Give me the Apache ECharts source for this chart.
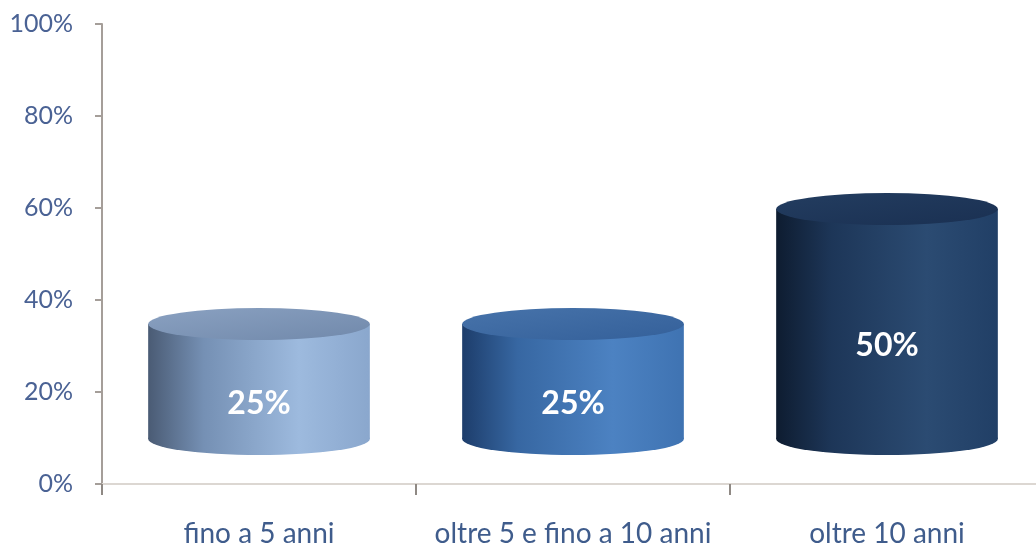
<!DOCTYPE html>
<html>
<head>
<meta charset="utf-8">
<script src="https://cdn.jsdelivr.net/npm/echarts@6/dist/echarts.min.js"></script>
<style>
html,body{margin:0;padding:0;background:#fff;overflow:hidden;width:1036px;height:548px;}
#chart{width:1060px;height:548px;}
</style>
</head>
<body>
<div id="chart"></div>
<script>
const categories = ['fino a 5 anni', 'oltre 5 e fino a 10 anni', 'oltre 10 anni'];
const values = [25, 25, 50];
const yTicks = [0, 20, 40, 60, 80, 100];

const bodyColors = [
  ['#4a5b74', '#7590b4', '#9dbade', '#8aa7cd'],
  ['#1d3d6b', '#3767a2', '#4c82c2', '#3f73b2'],
  ['#0e1c30', '#1d3658', '#2b4b72', '#213f66']
];
const topColors = [
  ['#8aa1c1', '#7189ab'],
  ['#4773aa', '#34609a'],
  ['#233d60', '#1a3052']
];

function hGrad(c) {
  return new echarts.graphic.LinearGradient(0, 0, 1, 0, [
    {offset: 0, color: c[0]},
    {offset: 0.25, color: c[1]},
    {offset: 0.68, color: c[2]},
    {offset: 1, color: c[3]}
  ]);
}

const chart = echarts.init(document.getElementById('chart'));
chart.setOption({
  animation: false,
  backgroundColor: '#fff',
  grid: {left: 102, top: 24, right: 16, bottom: 63, containLabel: false},
  xAxis: {
    type: 'category',
    data: categories,
    boundaryGap: true,
    axisLine: {show: true, lineStyle: {color: '#dcd7d2', width: 2}},
    axisTick: {show: true, alignWithLabel: false, length: 11, lineStyle: {color: '#8f8984', width: 2}},
    axisLabel: {interval: 0, margin: 36, color: '#3f5c8c', fontFamily: 'Lato', fontSize: 28},
    splitLine: {show: false}
  },
  yAxis: {
    type: 'value',
    min: yTicks[0],
    max: yTicks[yTicks.length - 1],
    interval: 20,
    axisLine: {show: true, lineStyle: {color: '#a59e99', width: 2}},
    axisTick: {show: true, length: 7, lineStyle: {color: '#a59e99', width: 2}},
    axisLabel: {margin: 29, color: '#4a6294', fontFamily: 'Lato', fontSize: 25, formatter: '{value}%'},
    splitLine: {show: false}
  },
  series: [{
    type: 'custom',
    data: values.map((v, i) => [i, v]),
    encode: {x: 0, y: 1},
    renderItem: function (params, api) {
      const idx = api.value(0);
      const val = api.value(1);
      const depth = 45;
      const base = api.coord([idx, 0]);
      const top = api.coord([idx, val]);
      const cx = base[0];
      const botY = base[1] - depth;
      const topY = top[1] - depth;
      const bandW = api.size([1, 0])[0];
      const rx = bandW * 0.353;
      const ry = 16;
      const grad = hGrad(bodyColors[idx]);
      const tc = topColors[idx];
      const topGrad = new echarts.graphic.LinearGradient(0, 0, 1, 1, [
        {offset: 0, color: tc[0]},
        {offset: 1, color: tc[1]}
      ]);
      return {
        type: 'group',
        children: [
          {type: 'circle', x: cx, y: botY, scaleY: ry / rx, shape: {cx: 0, cy: 0, r: rx}, style: {fill: grad}},
          {type: 'rect', shape: {x: cx - rx, y: topY, width: rx * 2, height: botY - topY}, style: {fill: grad}},
          {type: 'circle', x: cx, y: topY, scaleY: ry / rx, shape: {cx: 0, cy: 0, r: rx}, style: {fill: topGrad}},
          {type: 'text', x: cx, y: (topY + botY) / 2 + 22, style: {
            text: val + '%', fill: '#ffffff', font: 'bold 32px Lato',
            textAlign: 'center', textVerticalAlign: 'middle'
          }}
        ]
      };
    }
  }]
});
</script>
</body>
</html>
